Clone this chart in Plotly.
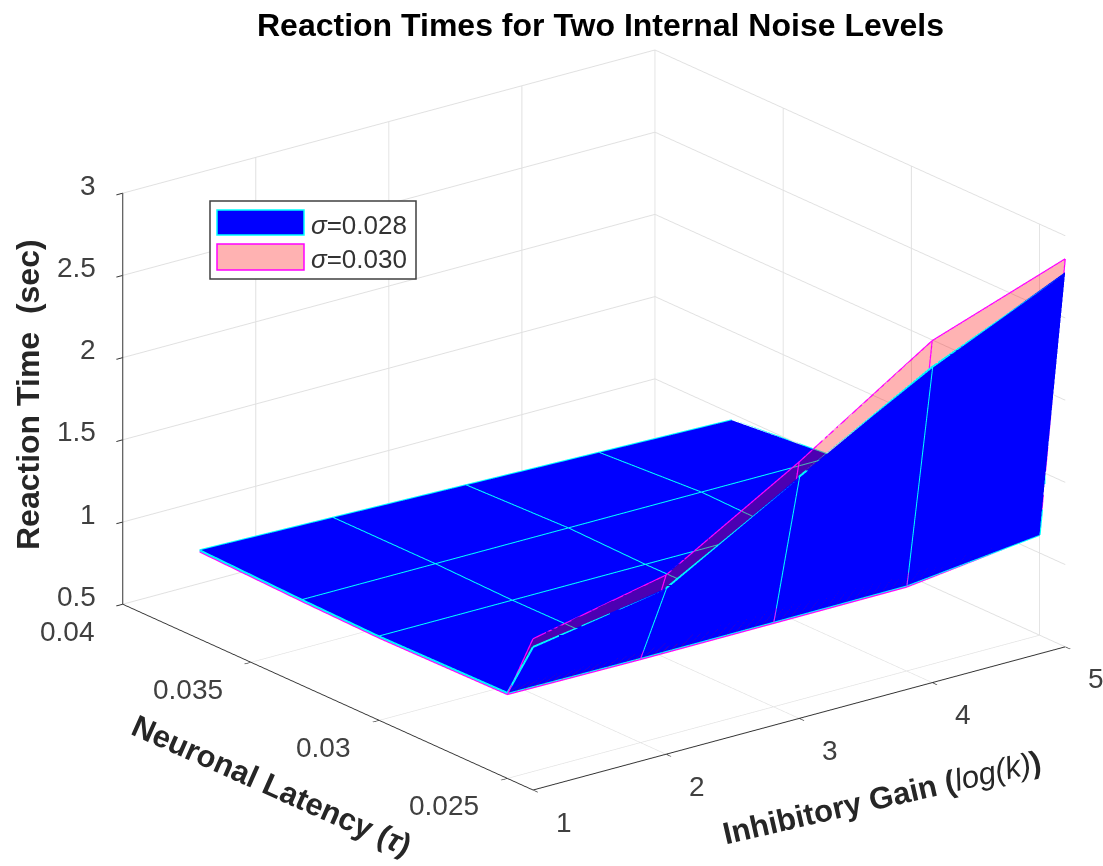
import plotly.graph_objects as go

gain = [1, 2, 3, 4, 5]
latency = [0.037, 0.033, 0.03, 0.025, 0.024]
rt_028 = [
    [1.04, 1.02, 1.00, 0.98, 0.96],
    [1.02, 1.02, 1.02, 1.02, 1.02],
    [1.01, 1.01, 1.01, 1.01, 1.02],
    [1.02, 1.015, 1.017, 1.02, 1.11],
    [1.37, 1.51, 1.97, 2.42, 2.78],
]
rt_030 = [
    [1.03, 1.01, 0.99, 0.97, 0.95],
    [1.01, 1.01, 1.01, 1.01, 1.01],
    [1.00, 1.00, 1.00, 1.00, 1.01],
    [1.01, 1.005, 1.007, 1.01, 1.11],
    [1.42, 1.59, 2.06, 2.58, 2.86],
]
x_ticks = [1, 2, 3, 4, 5]
y_ticks = [0.025, 0.03, 0.035, 0.04]
y_labels = ["0.025", "0.03", "0.035", "0.04"]
z_ticks = [0.5, 1, 1.5, 2, 2.5, 3]
z_labels = ["0.5", "1", "1.5", "2", "2.5", "3"]
x_range = [1, 5]
y_range = [0.024, 0.04]
z_range = [0.5, 3]

FONT = "Liberation Sans, Arial, sans-serif"
TICK_SIZE = 28

# camera
view_dir = (-0.572, -0.742, 0.349)
right = (0.792, -0.610, 0.0)
up_vec = (0.213, 0.276, 0.937)
eye_norm = 3.0
PX_PER_UNIT = 433.0
shift_right, shift_up = 42.5, 13.0
center = tuple(-(shift_right * right[i] + shift_up * up_vec[i]) / PX_PER_UNIT for i in range(3))
eye = tuple(center[i] + eye_norm * view_dir[i] for i in range(3))


def mesh_lines(z, color, width):
    xs, ys, zs = [], [], []
    for i, t in enumerate(latency):
        for j, g in enumerate(gain):
            xs.append(g); ys.append(t); zs.append(z[i][j])
        xs.append(None); ys.append(None); zs.append(None)
    for j, g in enumerate(gain):
        for i, t in enumerate(latency):
            xs.append(g); ys.append(t); zs.append(z[i][j])
        xs.append(None); ys.append(None); zs.append(None)
    return go.Scatter3d(x=xs, y=ys, z=zs, mode="lines", line=dict(color=color, width=width),
                        showlegend=False, hoverinfo="skip")


flat = dict(ambient=1, diffuse=0, specular=0, fresnel=0, roughness=1)
fig = go.Figure()
fig.add_trace(go.Surface(x=gain, y=latency, z=rt_028, colorscale=[[0, "#0000ff"], [1, "#0000ff"]],
                         showscale=False, lighting=flat, hoverinfo="skip", name="σ=0.028"))
fig.add_trace(go.Surface(x=gain, y=latency, z=rt_030, colorscale=[[0, "#ff0000"], [1, "#ff0000"]],
                         opacity=0.3, showscale=False, lighting=flat, hoverinfo="skip", name="σ=0.030"))
fig.add_trace(mesh_lines(rt_030, "#ff00ff", 2.5))
fig.add_trace(mesh_lines(rt_028, "#00ffff", 4))


def axis(rng, vals, text):
    return dict(range=rng, tickmode="array", tickvals=vals, ticktext=text, title=dict(text=""),
                showticklabels=False,
                showbackground=False, showgrid=True, gridcolor="#e0e0e0", gridwidth=2,
                zeroline=False, showline=True, linecolor="#333333", linewidth=2,
                ticks="outside", ticklen=8, tickcolor="#333333", tickwidth=2, showspikes=False)


def note(text, x, y, size, angle=0, color="#262626", xanchor="center"):
    return dict(text=text, x=x / 1103, y=1 - y / 866, xref="paper", yref="paper", showarrow=False,
                xanchor=xanchor, yanchor="middle", textangle=angle,
                font=dict(family=FONT, size=size, color=color))


def tick_note(text, x, y, z, xanchor, xshift, yshift):
    return dict(text=text, x=x, y=y, z=z, showarrow=False, xanchor=xanchor, yanchor="middle",
                xshift=xshift, yshift=yshift, font=dict(family=FONT, size=TICK_SIZE, color="#404040"))


tick_notes = (
    [tick_note(str(v), v, y_range[0], z_range[0], "center", 31, -32) for v in x_ticks]
    + [tick_note(t, x_range[0], v, z_range[0], "right", -26, -27) for v, t in zip(y_ticks, y_labels)]
    + [tick_note(t, x_range[0], y_range[1], v, "right", -25, 8) for v, t in zip(z_ticks, z_labels)]
)

fig.update_layout(
    width=1103, height=866, margin=dict(l=0, r=0, t=0, b=0), paper_bgcolor="white",
    showlegend=False,
    scene=dict(
        domain=dict(x=[0, 1], y=[0, 1]),
        xaxis=axis(x_range, x_ticks, [str(v) for v in x_ticks]),
        yaxis=axis(y_range, y_ticks, y_labels),
        zaxis=axis(z_range, z_ticks, z_labels),
        aspectmode="manual", aspectratio=dict(x=1.552, y=1.552, z=1.013),
        camera=dict(projection=dict(type="orthographic"), up=dict(x=0, y=0, z=1),
                    center=dict(x=center[0], y=center[1], z=center[2]),
                    eye=dict(x=eye[0], y=eye[1], z=eye[2])),
        annotations=tick_notes,
    ),
    annotations=[
        note("<b>Reaction Times for Two Internal Noise Levels</b>", 600, 25, 32, color="#000000"),
        note("<b>Reaction Time  (sec)</b>", 28, 395, 32, angle=-90),
        note("<b>Neuronal Latency (<i>τ</i>)</b>", 272, 785, 31, angle=24),
        note("<b>Inhibitory Gain (</b><i>log(k)</i><b>)</b>", 882, 797, 31, angle=-13),
        note("<i>σ</i>=0.028", 309, 225, 26, color="#333333", xanchor="left"),
        note("<i>σ</i>=0.030", 309, 259, 26, color="#333333", xanchor="left"),
    ],
    shapes=[
        dict(type="rect", xref="paper", yref="paper", x0=210 / 1103, x1=416 / 1103, y0=1 - 201 / 866, y1=1 - 279 / 866,
             line=dict(color="#404040", width=1.5), fillcolor="white"),
        dict(type="rect", xref="paper", yref="paper", x0=217 / 1103, x1=304 / 1103, y0=1 - 210 / 866, y1=1 - 235 / 866,
             line=dict(color="#00ffff", width=1.5), fillcolor="#0000ff"),
        dict(type="rect", xref="paper", yref="paper", x0=217 / 1103, x1=304 / 1103, y0=1 - 244 / 866, y1=1 - 270 / 866,
             line=dict(color="#ff00ff", width=1.5), fillcolor="#ffb2b2"),
    ],
)
fig.write_html("out.html", config=dict(displayModeBar=False),
               post_script="document.body.style.margin='0';document.documentElement.style.overflow='hidden';")
